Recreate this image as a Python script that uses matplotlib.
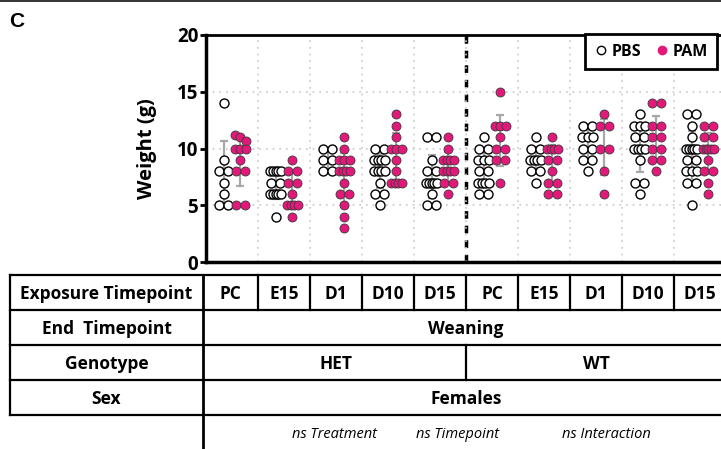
import numpy as np
import matplotlib
matplotlib.use('Agg')
import matplotlib.pyplot as plt
from matplotlib.lines import Line2D

# categories (column order along the x axis)
exposures = ['PC', 'E15', 'D1', 'D10', 'D15']
genotypes = ['HET', 'WT']
end_timepoint = 'Weaning'
sex = 'Females'
row_labels = ['Exposure Timepoint', 'End  Timepoint', 'Genotype', 'Sex']
stats_notes = ['ns Treatment', 'ns Timepoint', 'ns Interaction']

# weights (g), one list per column: HET PC..D15, then WT PC..D15
pbs_weights = [
    [14, 9, 8, 8, 7, 6, 5, 5],
    [8, 8, 8, 8, 8, 7, 7, 6, 6, 6, 6, 6, 4],
    [10, 10, 9, 9, 8, 8],
    [10, 10, 9, 9, 9, 9, 8, 8, 8, 8, 7, 6, 6, 5],
    [11, 11, 9, 8, 8, 7, 7, 7, 7, 7, 6, 5, 5],
    [11, 10, 10, 9, 9, 9, 8, 8, 7, 7, 7, 7, 6, 6],
    [11, 10, 10, 9, 9, 9, 9, 8, 8, 7],
    [12, 12, 11, 11, 11, 10, 10, 9, 9, 8],
    [13, 12, 12, 12, 11, 11, 10, 10, 10, 10, 9, 7, 7, 6],
    [13, 13, 12, 11, 10, 10, 10, 10, 10, 9, 9, 8, 8, 8, 7, 7, 5],
]
pam_weights = [
    [11.2, 11, 10.7, 10, 10, 10, 9, 8, 8, 5, 5],
    [9, 8, 8, 7, 7, 6, 5, 5, 5, 5, 4],
    [11, 10, 9, 9, 9, 8, 8, 8, 8, 7, 6, 6, 5, 4, 3],
    [13, 12, 11, 10, 10, 10, 9, 8, 7, 7, 7, 7],
    [11, 10, 9, 9, 9, 9, 8, 8, 8, 8, 7, 7, 6],
    [15, 12, 12, 12, 11, 10, 10, 9, 9, 7],
    [11, 10, 10, 10, 10, 9, 9, 8, 7, 7, 6, 6],
    [13, 12, 12, 10, 10, 8, 6],
    [14, 14, 12, 12, 11, 11, 10, 10, 9, 9, 8],
    [12, 12, 11, 11, 10, 10, 10, 10, 10, 9, 8, 8, 7, 6],
]

PAM_COLOR = '#E4187A'
W, H = 721, 449
plt.rcParams['font.family'] = ['Open Sans', 'DejaVu Sans']


def swarm(values, center, step=0.165, width=0.2):
    # spread points sharing (about) the same value side by side
    vals = np.asarray(values, float)
    xs = np.empty_like(vals)
    bins = np.round(vals)
    for b in np.unique(bins):
        idx = np.where(bins == b)[0]
        n = len(idx)
        s = step if n < 2 else min(step, width / (n - 1))
        xs[idx] = center + (np.arange(n) - (n - 1) / 2) * s
    return xs, vals


fig = plt.figure(figsize=(W / 100, H / 100), dpi=100)
ax = fig.add_axes([206 / W, 1 - 262 / H, 520 / W, 227 / H])

n_cols = len(genotypes) * len(exposures)
for i in range(n_cols):
    for vals, off, kw in [
        (pbs_weights[i], -0.16, dict(facecolor='white', edgecolor='black', linewidth=1.0)),
        (pam_weights[i], 0.16, dict(facecolor=PAM_COLOR, edgecolor='#3a3a3a', linewidth=0.6)),
    ]:
        xs, ys = swarm(vals, i + off)
        ax.errorbar(i + off, np.mean(vals), yerr=np.std(vals, ddof=1), color='#A8A8A8',
                    lw=1.6, capsize=3, capthick=1.6, zorder=2)
        ax.scatter(xs, ys, s=42, zorder=3, **kw)

ax.axvline(len(exposures) - 0.5, color='black', lw=2.5, ls=(0, (2.2, 2.0)), zorder=1.5)

ax.set_xlim(-0.5, n_cols - 0.5)
ax.set_ylim(0, 20)
ax.set_yticks([0, 5, 10, 15, 20])
ax.set_xticks([])
ax.set_xticks(np.arange(0.5, n_cols - 0.5, 1), minor=True)
ax.tick_params(axis='x', which='both', length=0)
ax.tick_params(axis='y', direction='out', length=4.5, width=2, labelsize=13.5, pad=1)
for lab in ax.get_yticklabels():
    lab.set_fontweight('bold')
ax.grid(which='minor', axis='x', color='#C8C8C8', lw=1.2, ls=(0, (1, 3)))
ax.grid(which='major', axis='y', color='#C8C8C8', lw=1.2, ls=(0, (1, 3)))
ax.spines['left'].set_linewidth(2.5)
ax.spines['bottom'].set_linewidth(2.5)
ax.spines['top'].set_linewidth(2)
ax.spines['right'].set_visible(False)
ax.set_ylabel('Weight (g)', fontsize=14.5, fontweight='bold')
ax.yaxis.set_label_coords(-0.095, 0.5)

handles = [
    Line2D([], [], marker='o', ls='', ms=6, mfc='white', mec='black', mew=1, label='PBS'),
    Line2D([], [], marker='o', ls='', ms=6, mfc=PAM_COLOR, mec=PAM_COLOR, label='PAM'),
]
leg = fig.legend(handles=handles, loc='upper left', bbox_to_anchor=(585 / W, 1 - 34 / H),
                 ncol=2, fancybox=False, edgecolor='black', framealpha=1,
                 prop={'weight': 'bold', 'size': 11.5}, handletextpad=0.25,
                 columnspacing=0.9, handlelength=0.8, borderpad=0.6, borderaxespad=0)
leg.get_frame().set_linewidth(2)

# table below the plot, drawn in pixel coordinates
tab = fig.add_axes([0, 0, 1, 1], zorder=-1)
tab.set_xlim(0, W)
tab.set_ylim(H, 0)
tab.axis('off')

tab.plot([0, W], [1, 1], color='#333333', lw=1.4)
tab.text(9, 27, 'C', fontsize=15, fontweight='bold', family='Liberation Sans', va='baseline')

left, lab_r, ax_l, col_w = 10, 203, 206, 52
rows = [275, 310, 345, 380, 415]
lw = 1.6
for y in rows:
    tab.plot([left, W + 5], [y, y], color='black', lw=lw, solid_capstyle='projecting')
tab.plot([left, left], [rows[0], rows[-1]], color='black', lw=lw)
tab.plot([lab_r, lab_r], [rows[0], H], color='black', lw=lw + 0.4)
for k in range(1, n_cols + 1):
    x = ax_l + col_w * k
    tab.plot([x, x], [rows[0], rows[1]], color='black', lw=lw)
mid = ax_l + col_w * len(exposures)
tab.plot([mid, mid], [rows[2], rows[3]], color='black', lw=lw)

fs = 12.5
dy = 6.2
for r, lab in enumerate(row_labels):
    tab.text((left + lab_r) / 2, (rows[r] + rows[r + 1]) / 2 + dy, lab,
             ha='center', va='baseline', fontsize=fs, fontweight='bold')
col_labels = exposures * len(genotypes)
for k, lab in enumerate(col_labels):
    x0 = lab_r if k == 0 else ax_l + col_w * k
    x1 = ax_l + col_w * (k + 1)
    tab.text((x0 + x1) / 2, (rows[0] + rows[1]) / 2 + dy, lab,
             ha='center', va='baseline', fontsize=fs, fontweight='bold')
tab.text(mid, (rows[1] + rows[2]) / 2 + dy, end_timepoint, ha='center', va='baseline',
         fontsize=fs, fontweight='bold')
for g, geno in enumerate(genotypes):
    x = ax_l + col_w * len(exposures) * (g + 0.5)
    tab.text(x, (rows[2] + rows[3]) / 2 + dy, geno, ha='center', va='baseline',
             fontsize=fs, fontweight='bold')
tab.text(mid, (rows[3] + rows[4]) / 2 + dy, sex, ha='center', va='baseline',
         fontsize=fs, fontweight='bold')
for x, note in zip([334, 458, 606], stats_notes):
    tab.text(x, 438, note, ha='center', va='baseline', fontsize=10.5, style='italic')

fig.savefig('out.png', dpi=100)
